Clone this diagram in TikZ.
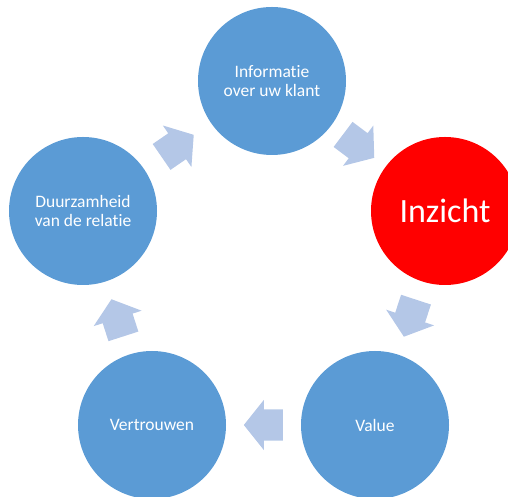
\documentclass[tikz,border=0pt]{standalone}
\usepackage{fontspec}
\setmainfont{Carlito}[Ligatures=NoCommon]
\usetikzlibrary{shapes.arrows,calc}

\definecolor{circblue}{RGB}{91,155,213}
\definecolor{arrowblue}{RGB}{180,199,231}

\begin{document}
\begin{tikzpicture}[x=1pt, y=1pt,
    circ/.style={circle, fill=circblue, draw=none, minimum size=148pt, inner sep=0pt,
        text=white, align=center, font=\fontsize{17.5}{19}\selectfont},
    flow/.style={single arrow, fill=arrowblue, draw=none, inner xsep=0pt, inner ysep=15.5pt,
        minimum height=39pt, minimum width=0pt, anchor=tail,
        single arrow head extend=9.5pt, single arrow tip angle=102.7}]

        \useasboundingbox (0,0) rectangle (508,497);

        \node[circ] (info) at (272,416) {Informatie\\over uw klant};
        \node[circ, fill=red, font=\fontsize{34}{40}\selectfont] (inzicht) at (445,286) {Inzicht};
        \node[circ] (value) at (375,72) {Value};
        \node[circ] (vertrouwen) at (152,72) {Vertrouwen};
        \node[circ] (duur) at (83,286) {Duurzamheid\\van de relatie};

        % block arrows halfway between the circles, tail set back by half their length
        \foreach \a/\b in {info/inzicht, inzicht/value, value/vertrouwen, vertrouwen/duur, duur/info} {%
            \path let \p1 = ($(\b)-(\a)$), \n1 = {atan2(\y1,\x1)} in
                node[flow, rotate=\n1] (arr-\a) at ($($(\a)!0.5!(\b)$)!-19.5pt!(\b)$) {};%
        }

    \end{tikzpicture}
\end{document}
